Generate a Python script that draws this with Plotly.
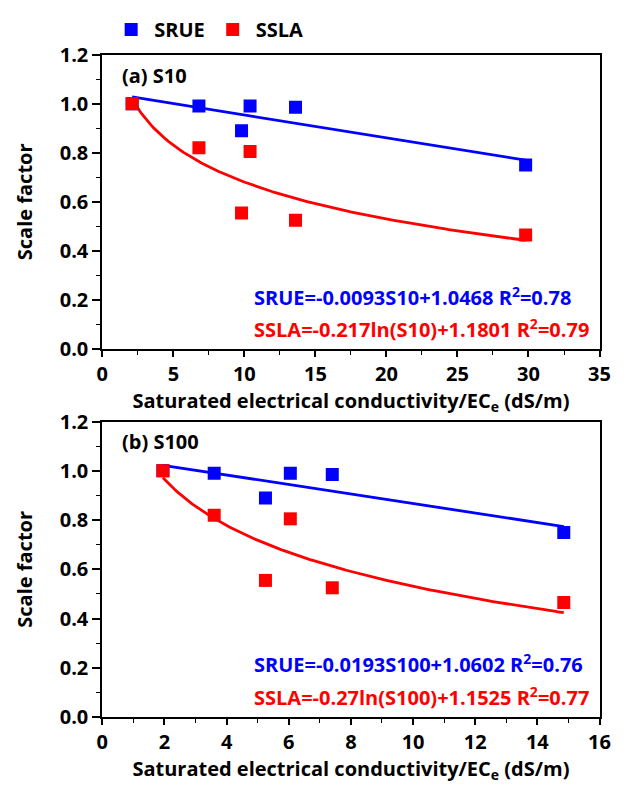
import numpy as np
import plotly.graph_objects as go

# ---- data ----
x_s10 = [2.1, 6.8, 9.8, 10.4, 13.6, 29.8]
x_s100 = [1.95, 3.6, 5.25, 6.05, 7.4, 14.85]
srue = [1.0, 0.99, 0.89, 0.99, 0.985, 0.75]
ssla = [1.0, 0.82, 0.555, 0.805, 0.525, 0.465]

# fitted equations shown on the chart
srue_a = (-0.0093, 1.0468)
ssla_a = (-0.217, 1.1801)
srue_b = (-0.0193, 1.0602)
ssla_b = (-0.27, 1.1525)

xticks_a = [0, 5, 10, 15, 20, 25, 30, 35]
xticks_b = [0, 2, 4, 6, 8, 10, 12, 14, 16]
yticks = [0.0, 0.2, 0.4, 0.6, 0.8, 1.0, 1.2]

BLUE = "#0000ff"
RED = "#ff0000"
FONT = "Open Sans"

W, H = 629, 789
def px(v): return v / W
def py(v): return 1 - v / H

fig = go.Figure()

def add_panel(xs, lin, lg, xa, ya, showleg):
    xf = np.linspace(min(xs), max(xs), 200)
    fig.add_trace(go.Scatter(x=xf, y=lin[0] * xf + lin[1], mode="lines",
                             line=dict(color=BLUE, width=2.8), showlegend=False,
                             xaxis=xa, yaxis=ya, hoverinfo="skip"))
    fig.add_trace(go.Scatter(x=xf, y=lg[0] * np.log(xf) + lg[1], mode="lines",
                             line=dict(color=RED, width=2.8), showlegend=False,
                             xaxis=xa, yaxis=ya, hoverinfo="skip"))
    fig.add_trace(go.Scatter(x=xs, y=srue, mode="markers", name="SRUE",
                             marker=dict(symbol="square", size=13, color=BLUE),
                             showlegend=showleg, xaxis=xa, yaxis=ya))
    fig.add_trace(go.Scatter(x=xs, y=ssla, mode="markers", name="SSLA",
                             marker=dict(symbol="square", size=13, color=RED),
                             showlegend=showleg, xaxis=xa, yaxis=ya))

add_panel(x_s10, srue_a, ssla_a, "x", "y", True)
add_panel(x_s100, srue_b, ssla_b, "x2", "y2", False)

tickfont = dict(family=FONT, size=20, color="black", weight="bold")
titlefont = dict(family=FONT, size=20, color="black", weight="bold")
xtitle = "Saturated electrical conductivity/EC<sub>e</sub> (dS/m)"

common_x = dict(showline=True, linecolor="black", linewidth=2, mirror=True,
                ticks="outside", ticklen=6, tickwidth=1.5, tickcolor="black",
                showgrid=False, zeroline=False, tickfont=tickfont,
                title=dict(text=xtitle, font=titlefont, standoff=2))
common_y = dict(showline=True, linecolor="black", linewidth=2, mirror=True,
                ticks="outside", ticklen=8, tickwidth=1.5, tickcolor="black",
                showgrid=False, zeroline=False, tickfont=tickfont,
                range=[0, 1.2], tickvals=yticks, ticktext=[f"{v:.1f}" for v in yticks],
                title=dict(text="Scale factor", font=titlefont, standoff=22),
                minor=dict(ticks="outside", ticklen=4, tickwidth=1.2, tickcolor="black",
                           tick0=0, dtick=0.1))

xdom = [px(99), px(610)]
fig.update_layout(
    width=W, height=H, margin=dict(l=0, r=0, t=0, b=0),
    plot_bgcolor="white", paper_bgcolor="white",
    font=dict(family=FONT),
    xaxis=dict(common_x, domain=xdom, range=[0, 35], tickvals=xticks_a, anchor="y",
               minor=dict(ticks="outside", ticklen=4, tickwidth=1.2, tickcolor="black", tick0=0, dtick=2.5)),
    yaxis=dict(common_y, domain=[py(347), py(42)], anchor="x"),
    xaxis2=dict(common_x, domain=xdom, range=[0, 16], tickvals=xticks_b, anchor="y2",
                minor=dict(ticks="outside", ticklen=4, tickwidth=1.2, tickcolor="black", tick0=0, dtick=1)),
    yaxis2=dict(common_y, domain=[py(728), py(422)], anchor="x2"),
    legend=dict(orientation="h", x=px(105), y=py(16), xanchor="left", yanchor="middle",
                font=dict(family=FONT, size=20, color="black", weight="bold"),
                itemwidth=36, bgcolor="rgba(0,0,0,0)"),
)

def ann(text, x, y, color="black", size=20):
    fig.add_annotation(text=text, x=px(x), y=py(y), xref="paper", yref="paper",
                       xanchor="left", yanchor="middle", showarrow=False,
                       font=dict(family=FONT, size=size, color=color, weight="bold"))

ann("(a) S10", 117, 64)
ann("(b) S100", 117, 443)
ann("SRUE=-0.0093S10+1.0468 R<sup>2</sup>=0.78", 253, 292, BLUE)
ann("SSLA=-0.217ln(S10)+1.1801 R<sup>2</sup>=0.79", 253, 326, RED)
ann("SRUE=-0.0193S100+1.0602 R<sup>2</sup>=0.76", 253, 673, BLUE)
ann("SSLA=-0.27ln(S100)+1.1525 R<sup>2</sup>=0.77", 253, 707, RED)

fig.write_html("out.html")
